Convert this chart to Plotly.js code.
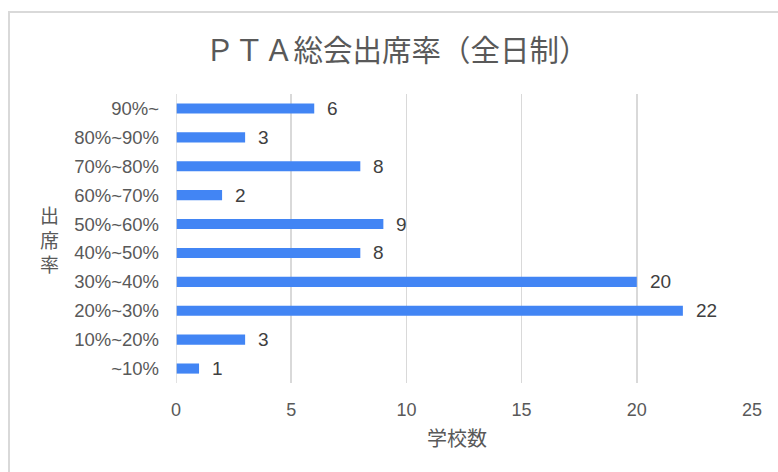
<!DOCTYPE html>
<html>
<head>
<meta charset="utf-8">
<script src="https://cdn.plot.ly/plotly-3.0.1.min.js"></script>
<style>
html,body{margin:0;padding:0;background:#fff;overflow:hidden;}
#frame{position:absolute;left:8px;top:11px;width:820px;height:520px;border:2px solid #d9d9d9;box-sizing:border-box;}
#chart{position:absolute;left:0;top:0;width:778px;height:472px;}
</style>
</head>
<body>
<div id="frame"></div>
<div id="chart"></div>
<script>
const categories = ["90%~","80%~90%","70%~80%","60%~70%","50%~60%","40%~50%","30%~40%","20%~30%","10%~20%","~10%"];
const schoolCounts = [6,3,8,2,9,8,20,22,3,1];
const xTicks = [0,5,10,15,20,25];

const FONT = '"Liberation Sans", Arial, "Noto Sans CJK JP", sans-serif';
const CJK = '"Noto Sans CJK JP", "Liberation Sans", sans-serif';
const GREY = '#595959';

const trace = {
  type: 'bar',
  orientation: 'h',
  x: schoolCounts,
  y: categories,
  marker: {color: '#4285F4'},
  hoverinfo: 'none'
};

const annotations = categories.map((c, i) => ({
  x: schoolCounts[i], y: c, xref: 'x', yref: 'y',
  text: String(schoolCounts[i]), showarrow: false,
  xanchor: 'left', yanchor: 'middle', xshift: 11,
  font: {family: FONT, size: 19, color: '#404040'}
}));
annotations.push({
  xref: 'paper', yref: 'paper', x: -0.22, y: 0.5,
  xanchor: 'center', yanchor: 'middle', showarrow: false,
  text: '出<br>席<br>率',
  font: {family: CJK, size: 19, color: GREY}
});
annotations.push({
  xref: 'paper', yref: 'paper', x: 0.488, y: -0.19,
  xanchor: 'center', yanchor: 'middle', showarrow: false,
  text: '学校数',
  font: {family: CJK, size: 20, color: GREY}
});

const layout = {
  width: 778, height: 472,
  margin: {l: 176, r: 26, t: 94, b: 89, pad: 0},
  paper_bgcolor: 'rgba(0,0,0,0)',
  plot_bgcolor: 'rgba(0,0,0,0)',
  bargap: 0.65,
  showlegend: false,
  title: {
    text: 'ＰＴＡ総会出席率（全日制）',
    font: {family: CJK, size: 29.5, color: GREY},
    x: 0.51, xanchor: 'center', y: 0.893, yanchor: 'middle'
  },
  xaxis: {
    range: [0, 25],
    tickvals: xTicks,
    ticktext: xTicks.map(String),
    showgrid: true, gridcolor: '#d9d9d9', gridwidth: 1.5,
    zeroline: false, showline: false,
    ticks: '', ticklabelstandoff: 14,
    tickfont: {family: FONT, size: 18, color: GREY},
    fixedrange: true
  },
  yaxis: {
    autorange: 'reversed',
    type: 'category',
    showgrid: false, zeroline: false,
    showline: false,
    ticks: '', ticklabelstandoff: 16,
    tickfont: {family: FONT, size: 18.5, color: GREY},
    fixedrange: true
  },
  shapes: [{
    type: 'line', xref: 'x', yref: 'paper', x0: 0, x1: 0, y0: 0, y1: 1,
    line: {color: '#d9d9d9', width: 1.5}
  }],
  annotations: annotations
};

Plotly.newPlot('chart', [trace], layout, {displayModeBar: false, staticPlot: true});
</script>
</body>
</html>
